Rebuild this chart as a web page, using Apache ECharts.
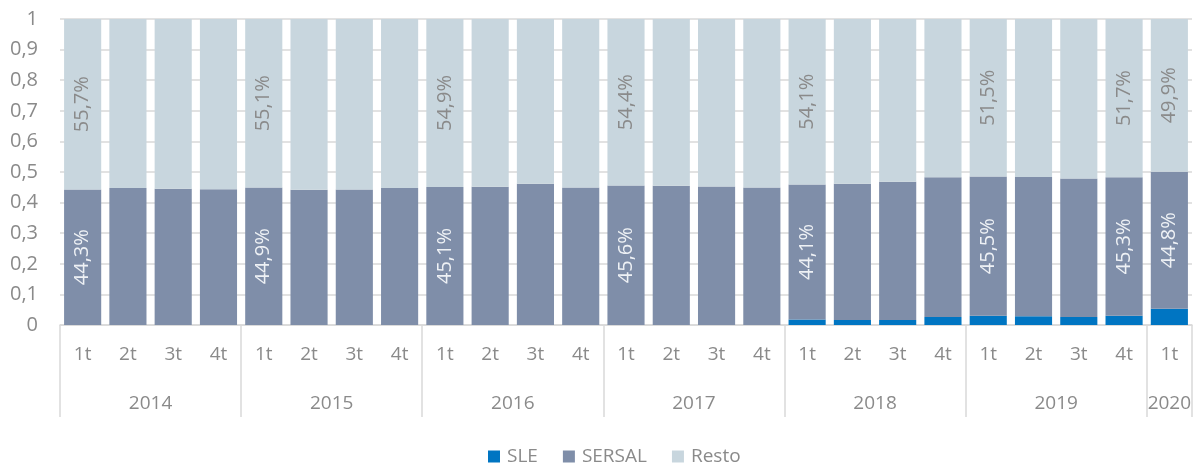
<!DOCTYPE html>
<html>
<head>
<meta charset="utf-8">
<style>
  html, body { margin: 0; padding: 0; background: #fff; }
  #chart { width: 1199px; height: 475px; }
</style>
<script src="https://cdn.jsdelivr.net/npm/echarts@6/dist/echarts.min.js"></script>
</head>
<body>
<div id="chart"></div>
<script>
// quarters and years
const quarters = ['1t','2t','3t','4t','1t','2t','3t','4t','1t','2t','3t','4t','1t','2t','3t','4t','1t','2t','3t','4t','1t','2t','3t','4t','1t'];
const years = ['2014','2015','2016','2017','2018','2019','2020'];
const yearSpan = [4, 4, 4, 4, 4, 4, 1];

// shares per quarter
const sle = [0, 0, 0, 0, 0, 0, 0, 0, 0, 0, 0, 0, 0, 0, 0, 0,
  0.018, 0.016, 0.016, 0.026, 0.030, 0.029, 0.026, 0.030, 0.053];
const sersal = [0.443, 0.448, 0.445, 0.444, 0.449, 0.442, 0.443, 0.448, 0.451, 0.452, 0.462, 0.449,
  0.456, 0.455, 0.453, 0.449, 0.441, 0.446, 0.452, 0.457, 0.455, 0.455, 0.453, 0.453, 0.448];
const resto = [0.557, 0.552, 0.555, 0.556, 0.551, 0.558, 0.557, 0.552, 0.549, 0.548, 0.538, 0.551,
  0.544, 0.545, 0.547, 0.551, 0.541, 0.538, 0.532, 0.517, 0.515, 0.516, 0.521, 0.517, 0.499];
// which bars carry a value label
const labelled = [1,0,0,0, 1,0,0,0, 1,0,0,0, 1,0,0,0, 1,0,0,0, 1,0,0,1, 1];

const font = 'Open Sans';
const grey = '#8a8a8a';

// year axis: half-quarter slots so the year sits in the middle of its group
const yearSlots = new Array(51).fill('');
const yearBounds = [0];
let pos = 0;
years.forEach((y, i) => {
  yearSlots[pos * 2 + yearSpan[i]] = y;
  pos += yearSpan[i];
  yearBounds.push(pos * 2);
});

const fmtPct = p => (p.value * 100).toFixed(1).replace('.', ',') + '%';
const withLabels = arr => arr.map((v, i) => ({ value: v, label: { show: !!labelled[i] } }));

var myChart = echarts.init(document.getElementById('chart'));
var option = {
  animation: false,
  textStyle: { fontFamily: font },
  grid: { left: 60, right: 7, top: 19, bottom: 150 },
  legend: {
    bottom: 4,
    left: 483,
    itemWidth: 12,
    itemHeight: 12,
    itemGap: 25,
    icon: 'rect',
    textStyle: { fontFamily: font, fontSize: 19, color: grey, padding: [0, 0, 0, 2] },
    data: ['SLE', 'SERSAL', 'Resto']
  },
  xAxis: [
    {
      type: 'category',
      data: quarters,
      position: 'bottom',
      axisLine: { show: true, lineStyle: { color: '#d9d9d9', width: 1.5 } },
      axisTick: { show: false },
      axisLabel: { fontFamily: font, fontSize: 19, color: grey, margin: 20 }
    },
    {
      type: 'category',
      data: yearSlots,
      position: 'bottom',
      boundaryGap: false,
      axisLine: { show: false },
      axisTick: {
        show: true,
        length: 92,
        interval: (idx) => yearBounds.indexOf(idx) >= 0,
        lineStyle: { color: '#d9d9d9', width: 1.5 }
      },
      axisLabel: { interval: 0, fontFamily: font, fontSize: 19, color: grey, margin: 69 }
    }
  ],
  yAxis: {
    type: 'value',
    min: 0,
    max: 1,
    interval: 0.1,
    axisLine: { show: false },
    axisTick: { show: false },
    splitLine: { lineStyle: { color: '#d9d9d9', width: 1.5 } },
    axisLabel: {
      fontFamily: font, fontSize: 20, color: grey, margin: 22,
      formatter: v => (v === 0 || v === 1) ? String(v) : v.toFixed(1).replace('.', ',')
    }
  },
  series: [
    {
      name: 'SLE', type: 'bar', stack: 'total', data: sle,
      barCategoryGap: '18%',
      itemStyle: { color: '#0075c2' }
    },
    {
      name: 'SERSAL', type: 'bar', stack: 'total', data: withLabels(sersal),
      barCategoryGap: '18%',
      itemStyle: { color: '#7f8ea9' },
      label: {
        position: 'inside', rotate: 90, formatter: fmtPct,
        fontFamily: font, fontSize: 20, color: '#eef1f5'
      }
    },
    {
      name: 'Resto', type: 'bar', stack: 'total', data: withLabels(resto),
      barCategoryGap: '18%',
      itemStyle: { color: '#c8d6de' },
      label: {
        position: 'inside', rotate: 90, formatter: fmtPct,
        fontFamily: font, fontSize: 20, color: '#8a8a8a'
      }
    }
  ]
};
option && myChart.setOption(option);
</script>
</body>
</html>
